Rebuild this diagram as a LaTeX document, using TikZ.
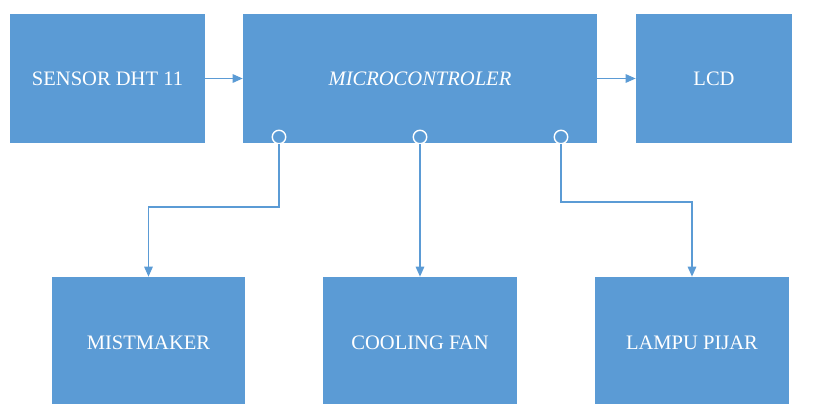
\documentclass[tikz,border=0pt]{standalone}
\usepackage{fontspec}
\setmainfont{Liberation Serif}
\usetikzlibrary{arrows.meta}
\definecolor{boxblue}{RGB}{91,155,213}

\begin{document}
\begin{tikzpicture}[x=0.02cm,y=-0.02cm,
        blok/.style={fill=boxblue,text=white,inner sep=0,minimum height=2.6cm,
            font=\fontsize{11.7}{14}\selectfont},
        pin/.style={circle,draw=white,fill=boxblue,line width=0.8pt,minimum size=0.27cm,inner sep=0},
        conn/.style={draw=boxblue,line width=0.8pt,-{Triangle[length=0.2cm,width=0.17cm]}}]
        \useasboundingbox (0,0) rectangle (818,403);

        \node[blok,minimum width=3.9cm](sensor)at(107.5,78.5){SENSOR DHT 11};
        \node[blok,minimum width=7.08cm](micro)at(420,78.5){\itshape MICROCONTROLER};
        \node[blok,minimum width=3.12cm](lcd)at(714,78.5){LCD};

        \node[blok,minimum width=3.86cm,minimum height=2.64cm](mist)at(148.5,343){MISTMAKER};
        \node[blok,minimum width=3.88cm,minimum height=2.64cm](fan)at(420,343){COOLING FAN};
        \node[blok,minimum width=3.88cm,minimum height=2.64cm](lampu)at(692,343){LAMPU PIJAR};

        \node[pin](p1)at(279,137){};
        \node[pin](p2)at(420,137){};
        \node[pin](p3)at(561,137){};
        \coordinate(k1)at(279,207);
        \coordinate(k3)at(561,202);

        \draw[conn](sensor)--(micro);
        \draw[conn](micro)--(lcd);
        \draw[conn](p1.south)--(k1)-|(mist.north);
        \draw[conn](p2.south)--(fan.north);
        \draw[conn](p3.south)--(k3)-|(lampu.north);
    \end{tikzpicture}
\end{document}
